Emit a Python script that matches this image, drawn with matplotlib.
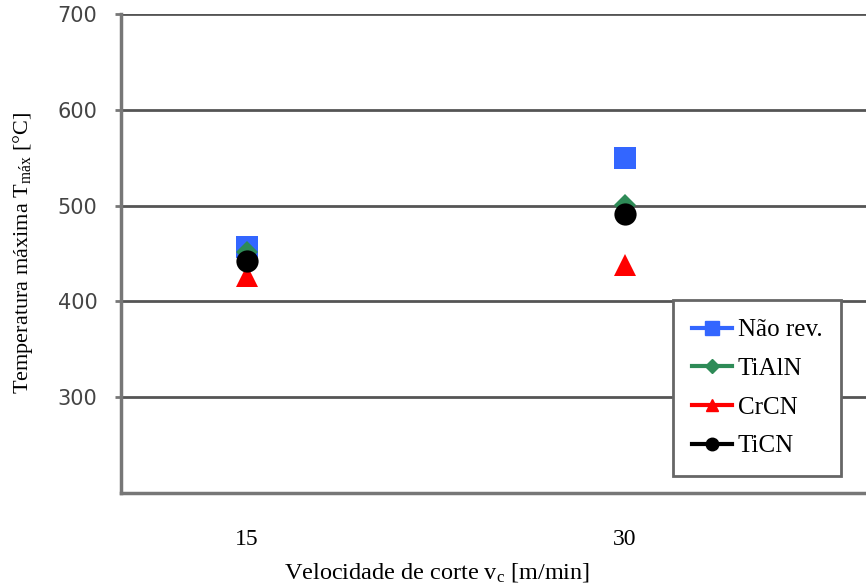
import matplotlib.pyplot as plt
from matplotlib.lines import Line2D

plt.rcParams['mathtext.fontset'] = 'custom'
plt.rcParams['mathtext.rm'] = 'Liberation Serif'
plt.rcParams['mathtext.it'] = 'Liberation Serif:italic'

velocidade = [15, 30]
series = ['Não rev.', 'TiAlN', 'CrCN', 'TiCN']
t_nao_rev = [457, 550]
t_tialn = [452, 501]
t_crcn = [426, 438]
t_ticn = [442, 491]

cores = ['#3366ff', '#2e8b57', '#ff0000', '#000000']
marcadores = ['s', 'D', '^', 'o']
tamanhos = [16, 11, 16, 16]
valores = [t_nao_rev, t_tialn, t_crcn, t_ticn]

fig = plt.figure(figsize=(8.66, 5.85), dpi=100)
ax = fig.add_axes([121 / 866, 92 / 585, 756 / 866, 479 / 585])

for v, c, m, s in zip(valores, cores, marcadores, tamanhos):
    ax.plot(velocidade, v, linestyle='none', marker=m, color=c, markersize=s,
            markeredgewidth=0, zorder=3)

ax.set_xlim(10, 40)
ax.set_ylim(200, 700)
ax.set_yticks([300, 400, 500, 600, 700])
ax.set_xticks(velocidade)
ax.yaxis.grid(True, color='#555555', linewidth=2)
ax.set_axisbelow(True)

for lado in ['top', 'right']:
    ax.spines[lado].set_visible(False)
for lado in ['left', 'bottom']:
    ax.spines[lado].set_color('#777777')
    ax.spines[lado].set_linewidth(2.5)

ax.tick_params(axis='y', length=4, width=2, color='#777777', labelsize=15,
               labelcolor='#444444', pad=13)
ax.tick_params(axis='x', length=0, pad=26)
for lbl in ax.get_xticklabels():
    lbl.set_fontfamily('Liberation Serif')
    lbl.set_fontsize(17)

ax.set_xlabel('Velocidade de corte v$_\\mathrm{c}$ [m/min]', family='Liberation Serif',
              fontsize=17.5)
ax.xaxis.set_label_coords(0.418, -0.143)
ax.set_ylabel('Temperatura máxima T$_\\mathrm{máx}$ [°C]', family='Liberation Serif',
              fontsize=16, va='center')
ax.yaxis.set_label_coords(-0.13, 0.5)

handles = [Line2D([0], [0], color=c, marker=m, markersize=ms, linewidth=3)
           for c, m, ms in zip(cores, marcadores, [10, 7, 9, 9])]
leg = fig.legend(handles, series, loc='upper left', bbox_to_anchor=(673 / 866, 1 - 300 / 585),
                 prop={'family': 'Liberation Serif', 'size': 18}, frameon=True,
                 fancybox=False, handlelength=1.6, handletextpad=0.25,
                 labelspacing=0.65, borderpad=0.75, borderaxespad=0)
leg.get_frame().set_edgecolor('#666666')
leg.get_frame().set_linewidth(2)
leg.get_frame().set_alpha(1)

fig.savefig('out.png', dpi=100)
